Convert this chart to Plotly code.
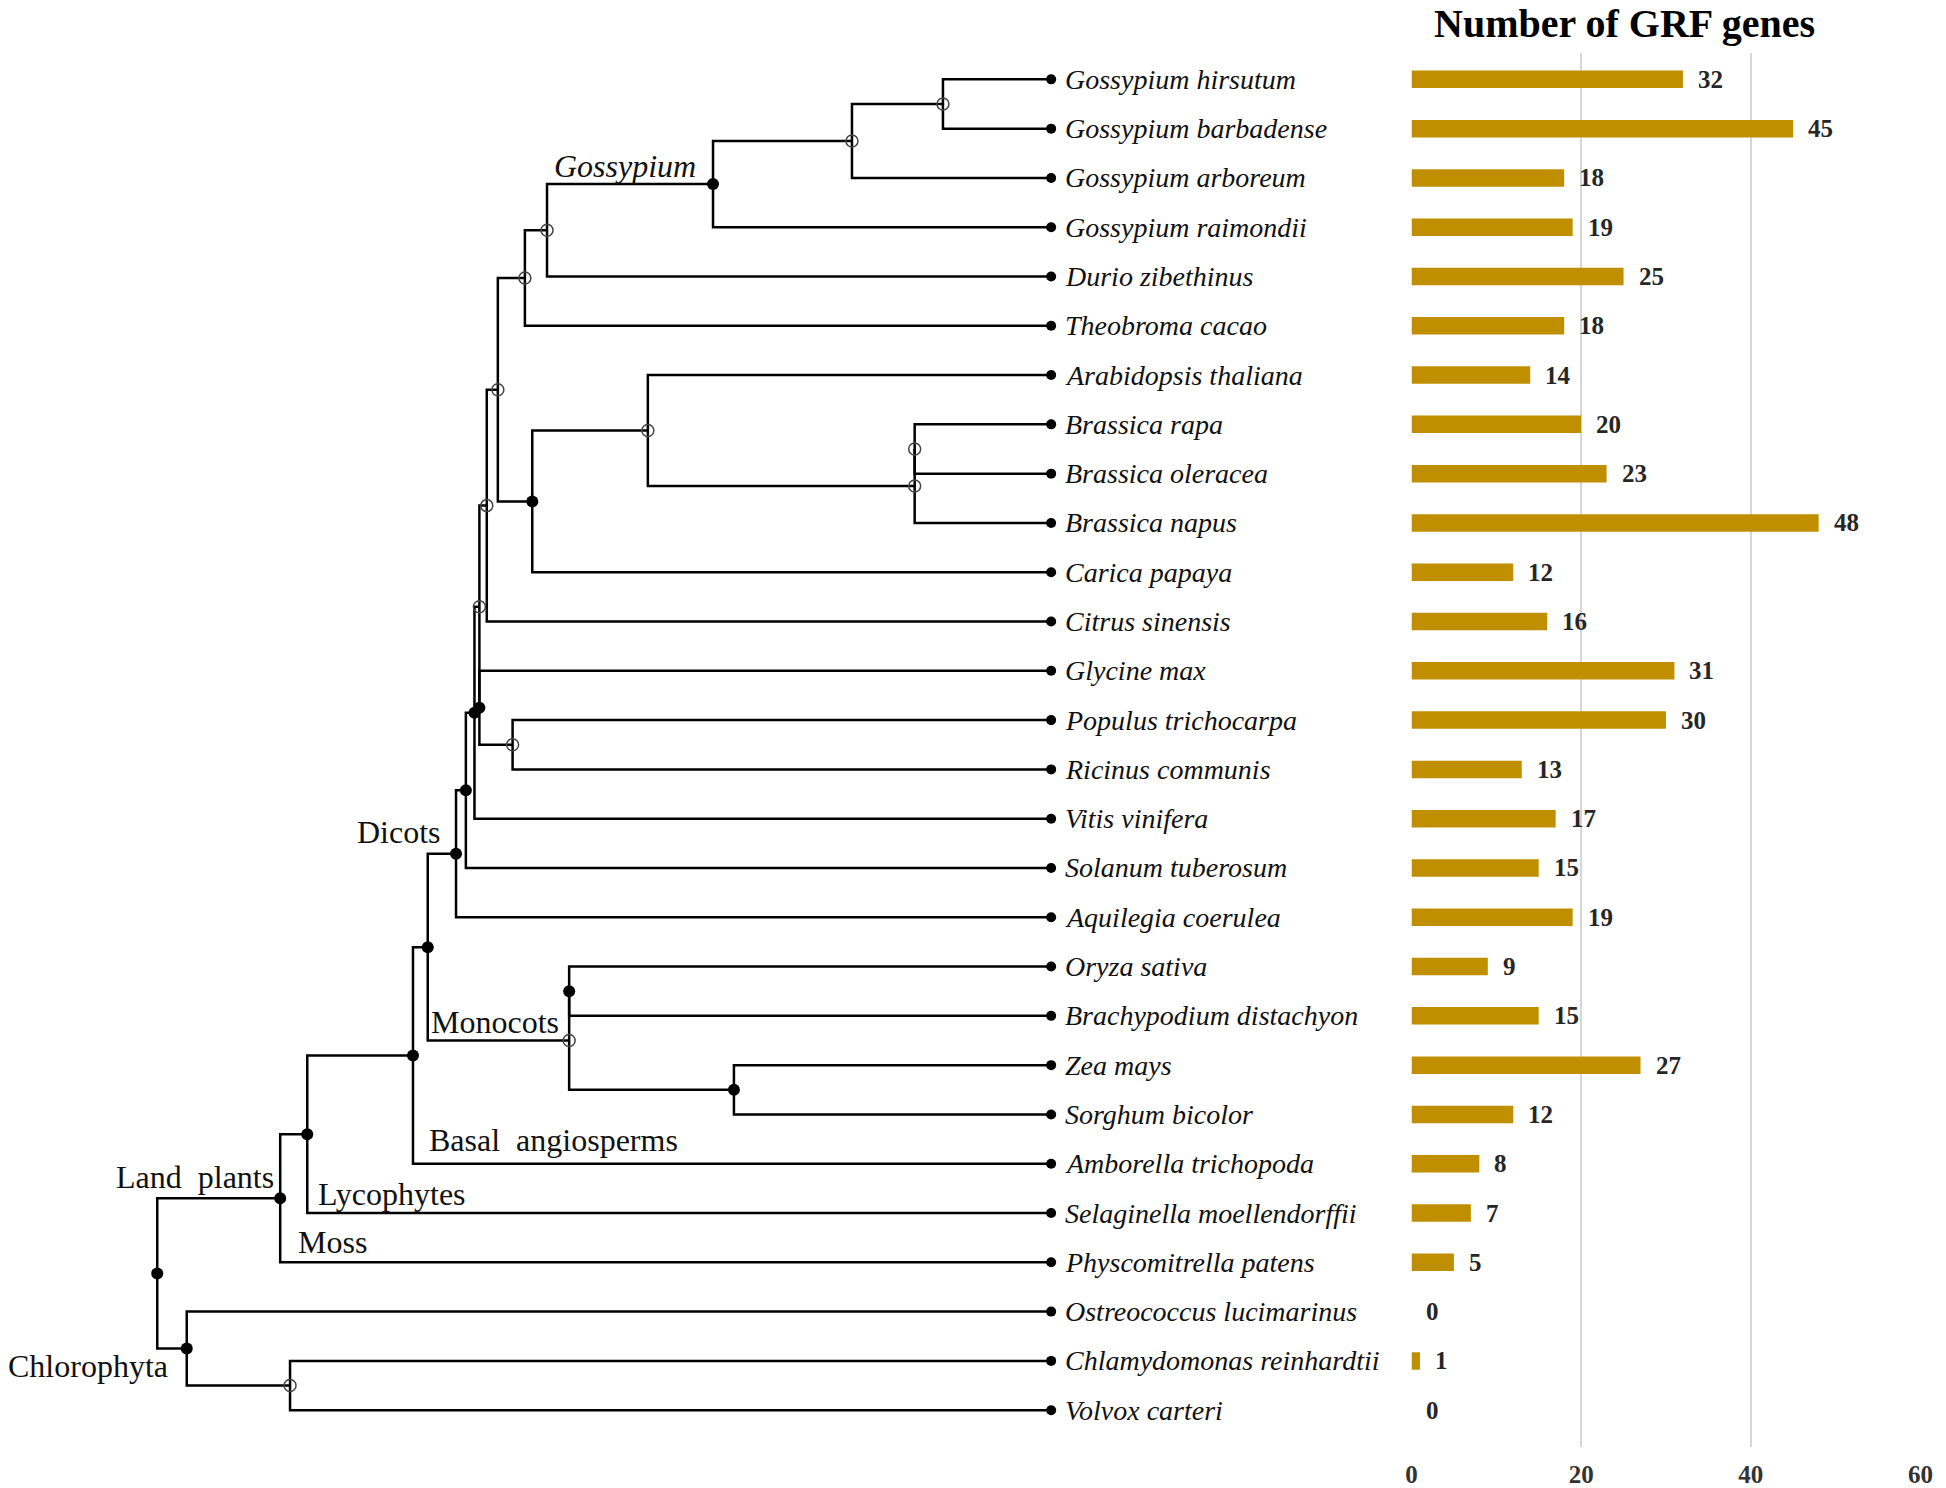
import plotly.graph_objects as go

# ---------------- data ----------------
species = [
    "Gossypium hirsutum", "Gossypium barbadense", "Gossypium arboreum", "Gossypium raimondii",
    "Durio zibethinus", "Theobroma cacao", "Arabidopsis thaliana", "Brassica rapa",
    "Brassica oleracea", "Brassica napus", "Carica papaya", "Citrus sinensis", "Glycine max",
    "Populus trichocarpa", "Ricinus communis", "Vitis vinifera", "Solanum tuberosum",
    "Aquilegia coerulea", "Oryza sativa", "Brachypodium distachyon", "Zea mays",
    "Sorghum bicolor", "Amborella trichopoda", "Selaginella moellendorffii",
    "Physcomitrella patens", "Ostreococcus lucimarinus", "Chlamydomonas reinhardtii",
    "Volvox carteri",
]
grf_counts = [32, 45, 18, 19, 25, 18, 14, 20, 23, 48, 12, 16, 31, 30, 13, 17, 15, 19,
              9, 15, 27, 12, 8, 7, 5, 0, 1, 0]

tip_depth = 850  # depth of all leaf tips (cladogram units)

# internal nodes (children listed before parents); ints = leaf index, str = node name
node_names = ["hb", "hba", "goss", "gd", "gdt", "ro", "ron", "brassicaceae", "brass_car",
              "mb", "ros", "pr", "gp", "p1", "q", "r", "dicots", "m1", "zs", "mono",
              "dm", "angio", "trach", "land", "cv", "chloro", "root"]
node_depths = [762, 688, 575, 440, 422, 739, 739, 522, 428,
               400, 391, 412, 385, 385, 381, 374, 366, 458, 592, 458,
               343, 331, 245, 223, 231, 147, 123]
node_children = [[0, 1], ["hb", 2], ["hba", 3], ["goss", 4], ["gd", 5], [7, 8], ["ro", 9],
                 [6, "ron"], ["brassicaceae", 10], ["gdt", "brass_car"], ["mb", 11],
                 [13, 14], [12, "pr"], ["ros", "gp"], ["p1", 15], ["q", 16], ["r", 17],
                 [18, 19], [20, 21], ["m1", "zs"], ["dicots", "mono"], ["dm", 22],
                 ["angio", 23], ["trach", 24], [26, 27], [25, "cv"], ["land", "chloro"]]
node_filled = [False, False, True, False, False, False, False, False, True,
               False, False, False, True, False, True, True, True, True, True, False,
               True, True, True, True, False, True, True]

clade_labels = ["Gossypium", "Dicots", "Monocots", "Basal  angiosperms", "Land  plants",
                "Lycophytes", "Moss", "Chlorophyta"]
clade_label_x = [444, 284, 344, 342, 88, 252, 236, 0]
clade_label_y = [1.75, 15.27, 19.12, 21.52, 22.26, 22.62, 23.58, 26.10]
clade_label_italic = [True, False, False, False, False, False, False, False]

bar_ticks = [0, 20, 40, 60]
title_text = "Number of GRF genes"

# ---------------- layout constants ----------------
W, H = 1946, 1488
ROW0 = 79.5      # px of first row centre
ROW = 49.39      # px between rows
TREE_DOM = 0.72
UNIT = W / 1568.0
SERIF = "Liberation Serif, Times New Roman, serif"

# ---------------- compute tree geometry ----------------
pos = {}
for i in range(len(species)):
    pos[i] = (tip_depth, float(i))
for name, d, ch in zip(node_names, node_depths, node_children):
    ys = [pos[c][1] for c in ch]
    pos[name] = (d, (min(ys) + max(ys)) / 2.0)

lx, ly = [], []
for name, ch in zip(node_names, node_children):
    x, _ = pos[name]
    first, last = ch[0], ch[-1]
    fx, fy = pos[first]
    tx, ty = pos[last]
    lx += [fx, x, x, tx, None]
    ly += [fy, fy, ty, ty, None]
    for c in ch[1:-1]:
        cx, cy = pos[c]
        lx += [x, cx, None]
        ly += [cy, cy, None]

fig = go.Figure()
fig.add_trace(go.Scatter(x=lx, y=ly, mode="lines", line=dict(color="black", width=2.5),
                         hoverinfo="skip", xaxis="x", yaxis="y"))
# leaf dots
fig.add_trace(go.Scatter(x=[pos[i][0] for i in range(len(species))],
                         y=[pos[i][1] for i in range(len(species))], mode="markers",
                         marker=dict(color="black", size=10), xaxis="x", yaxis="y"))
# internal node markers
fx_, fy_, ox_, oy_ = [], [], [], []
for name, f in zip(node_names, node_filled):
    x, y = pos[name]
    if f:
        fx_.append(x); fy_.append(y)
    else:
        ox_.append(x); oy_.append(y)
fig.add_trace(go.Scatter(x=ox_, y=oy_, mode="markers",
                         marker=dict(symbol="circle-open", color="#444444", size=12,
                                     line=dict(width=1.5, color="#444444")),
                         xaxis="x", yaxis="y"))
fig.add_trace(go.Scatter(x=fx_, y=fy_, mode="markers",
                         marker=dict(color="black", size=12), xaxis="x", yaxis="y"))

# bars
fig.add_trace(go.Bar(x=grf_counts, y=list(range(len(species))), orientation="h",
                     width=0.355, marker=dict(color="#BF8F00", line=dict(width=0)),
                     xaxis="x2", yaxis="y2"))

ann = []
for i, s in enumerate(species):
    ann.append(dict(x=tip_depth, y=i, xref="x", yref="y", text=s, showarrow=False,
                    xanchor="left", yanchor="middle", xshift=12,
                    font=dict(family=SERIF, size=28, color="#111111", style="italic")))
for i, v in enumerate(grf_counts):
    ann.append(dict(x=v, y=i, xref="x2", yref="y2", text=str(v), showarrow=False,
                    xanchor="left", yanchor="middle", xshift=13,
                    font=dict(family=SERIF, size=25, color="#262626", weight="bold")))
for t, x, y, it in zip(clade_labels, clade_label_x, clade_label_y, clade_label_italic):
    ann.append(dict(x=x, y=y, xref="x", yref="y", text=t.replace("  ", "&nbsp; "),
                    showarrow=False, xanchor="left", yanchor="middle",
                    font=dict(family=SERIF, size=32, color="#111111",
                              style="italic" if it else "normal")))
ann.append(dict(x=1634 / W, y=1 - 24 / H, xref="paper", yref="paper", text=title_text,
                showarrow=False, xanchor="center", yanchor="middle",
                font=dict(family=SERIF, size=40, color="black", weight="bold")))

bar_top, bar_bot = 53, 1450
fig.update_layout(
    width=W, height=H, margin=dict(l=0, r=0, t=0, b=0),
    plot_bgcolor="white", paper_bgcolor="white", showlegend=False,
    annotations=ann,
    xaxis=dict(domain=[0, TREE_DOM], range=[0, TREE_DOM * W / UNIT], visible=False,
               anchor="y"),
    yaxis=dict(domain=[0, 1], range=[(H - ROW0) / ROW, -ROW0 / ROW], visible=False,
               anchor="x"),
    xaxis2=dict(domain=[1418.6 / W, 1932.3 / W], range=[0, 60], anchor="y2",
                tickvals=bar_ticks, showgrid=True, gridcolor="#d6d6d6", gridwidth=1.5,
                zeroline=False, showline=False, ticks="", ticklabelstandoff=10,
                tickfont=dict(family=SERIF, size=25, color="#333333", weight="bold")),
    yaxis2=dict(domain=[1 - bar_bot / H, 1 - bar_top / H],
                range=[(bar_bot - ROW0) / ROW, (bar_top - ROW0) / ROW], visible=False,
                anchor="x2"),
)

fig.write_html(
    "out.html",
    config={"displayModeBar": False},
    post_script="document.body.style.margin='0px';document.body.style.overflow='hidden';",
)
